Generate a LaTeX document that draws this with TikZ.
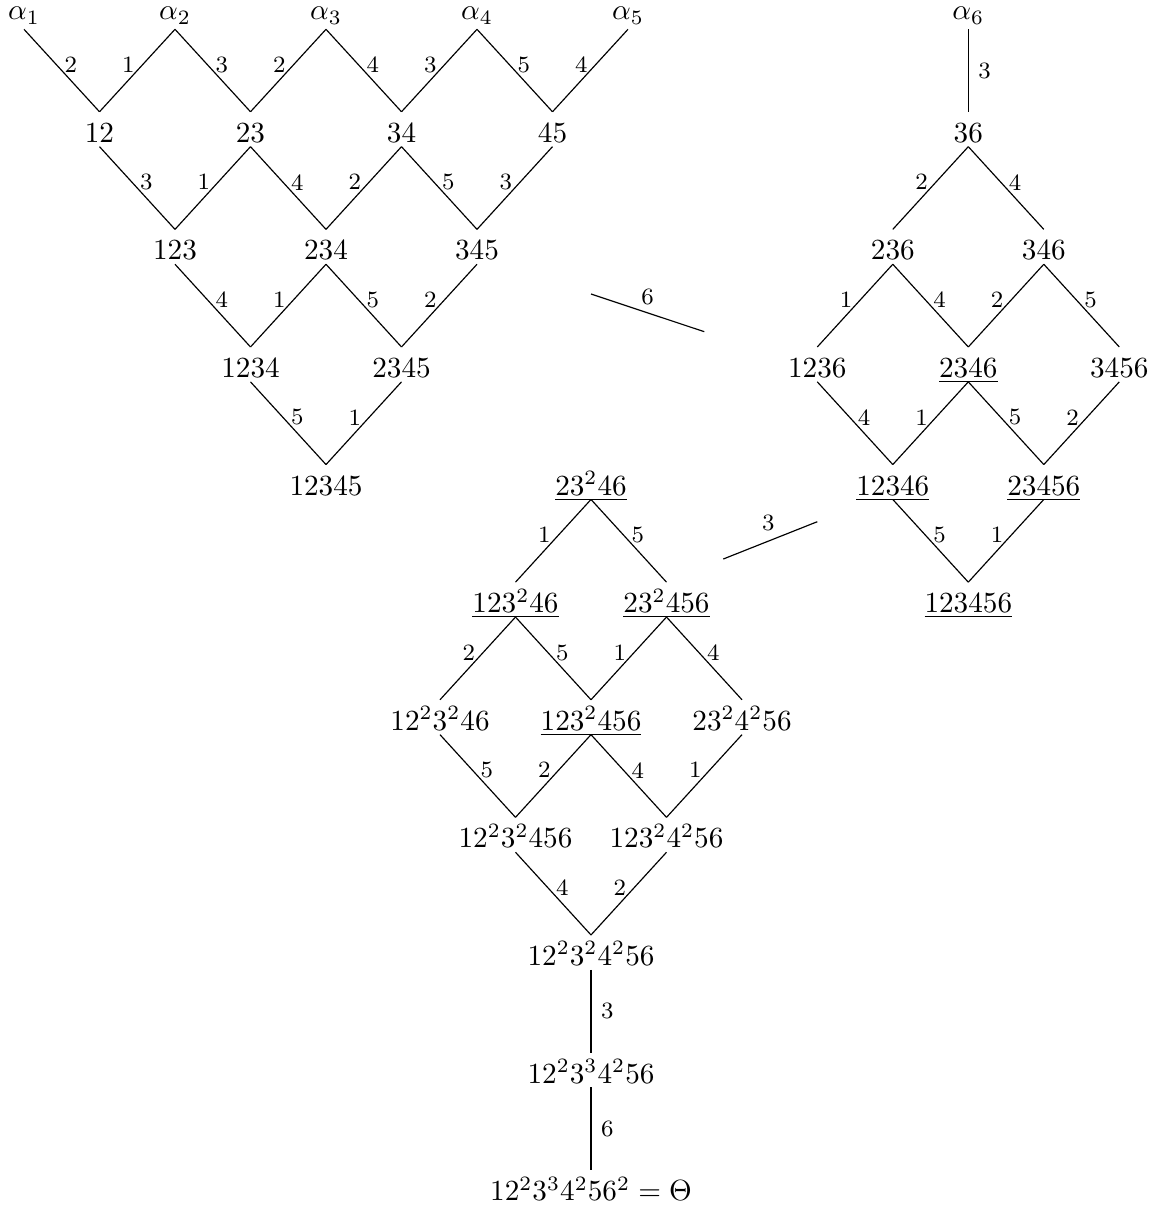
\documentclass[tikz,border=0pt]{standalone}
\begin{document}
\begin{tikzpicture}[x=0.34247pt, y=-0.34247pt,
  vx/.style={inner sep=0pt, outer sep=0pt, text height=10.45pt, text depth=1.5pt},
  ax/.style={inner sep=0pt, outer sep=0pt, text depth=3.2pt, anchor=south},
  labR/.style={pos=0.43, xshift=4.9pt, font=\footnotesize, inner sep=0pt},
  labL/.style={pos=0.43, xshift=-4.9pt, font=\footnotesize, inner sep=0pt},
  labV/.style={pos=0.5, xshift=5.6pt, font=\footnotesize, inner sep=0pt},
  labC/.style={midway, font=\footnotesize, inner sep=0pt}]
\useasboundingbox (0,0) rectangle (1157,1209);

% ---------- left block ----------
\node[ax] (a1) at (24,29.3) {$\alpha_1$};
\node[ax] (a2) at (175,29.3) {$\alpha_2$};
\node[ax] (a3) at (326,29.3) {$\alpha_3$};
\node[ax] (a4) at (477,29.3) {$\alpha_4$};
\node[ax] (a5) at (628,29.3) {$\alpha_5$};

\node[vx] (n12) at (99.5,129.2) {$12$};
\node[vx] (n23) at (250.5,129.2) {$23$};
\node[vx] (n34) at (401.5,129.2) {$34$};
\node[vx] (n45) at (552.5,129.2) {$45$};

\node[vx] (n123) at (175,246.8) {$123$};
\node[vx] (n234) at (326,246.8) {$234$};
\node[vx] (n345) at (477,246.8) {$345$};

\node[vx] (n1234) at (250.5,364.4) {$1234$};
\node[vx] (n2345) at (401.5,364.4) {$2345$};

\node[vx] (n12345) at (326,482.0) {$12345$};

\draw (a1.south) -- node[labR]{2} (n12.north);
\draw (a2.south) -- node[labL]{1} (n12.north);
\draw (a2.south) -- node[labR]{3} (n23.north);
\draw (a3.south) -- node[labL]{2} (n23.north);
\draw (a3.south) -- node[labR]{4} (n34.north);
\draw (a4.south) -- node[labL]{3} (n34.north);
\draw (a4.south) -- node[labR]{5} (n45.north);
\draw (a5.south) -- node[labL]{4} (n45.north);

\draw (n12.south) -- node[labR]{3} (n123.north);
\draw (n23.south) -- node[labL]{1} (n123.north);
\draw (n23.south) -- node[labR]{4} (n234.north);
\draw (n34.south) -- node[labL]{2} (n234.north);
\draw (n34.south) -- node[labR]{5} (n345.north);
\draw (n45.south) -- node[labL]{3} (n345.north);

\draw (n123.south) -- node[labR]{4} (n1234.north);
\draw (n234.south) -- node[labL]{1} (n1234.north);
\draw (n234.south) -- node[labR]{5} (n2345.north);
\draw (n345.south) -- node[labL]{2} (n2345.north);

\draw (n1234.south) -- node[labR]{5} (n12345.north);
\draw (n2345.south) -- node[labL]{1} (n12345.north);

% ---------- right block ----------
\node[ax] (a6) at (968.3,29.3) {$\alpha_6$};
\node[vx] (r36) at (968.3,129.2) {$36$};
\node[vx] (r236) at (892.8,246.8) {$236$};
\node[vx] (r346) at (1043.8,246.8) {$346$};
\node[vx] (r1236) at (817.3,364.4) {$1236$};
\node[vx] (r2346) at (968.3,364.4) {$\underline{2346}$};
\node[vx] (r3456) at (1119.3,364.4) {$3456$};
\node[vx] (r12346) at (892.8,482.0) {$\underline{12346}$};
\node[vx] (r23456) at (1043.8,482.0) {$\underline{23456}$};
\node[vx] (r123456) at (968.3,599.6) {$\underline{123456}$};

\draw (a6.south) -- node[labV]{3} (r36.north);
\draw (r36.south) -- node[labL]{2} (r236.north);
\draw (r36.south) -- node[labR]{4} (r346.north);
\draw (r236.south) -- node[labL]{1} (r1236.north);
\draw (r236.south) -- node[labR]{4} (r2346.north);
\draw (r346.south) -- node[labL]{2} (r2346.north);
\draw (r346.south) -- node[labR]{5} (r3456.north);
\draw (r1236.south) -- node[labR]{4} (r12346.north);
\draw (r2346.south) -- node[labL]{1} (r12346.north);
\draw (r2346.south) -- node[labR]{5} (r23456.north);
\draw (r3456.south) -- node[labL]{2} (r23456.north);
\draw (r12346.south) -- node[labR]{5} (r123456.north);
\draw (r23456.south) -- node[labL]{1} (r123456.north);

% ---------- middle block ----------
\node[vx] (m1) at (591,482.0) {$\underline{23^246}$};
\node[vx] (m2a) at (515.5,599.6) {$\underline{123^246}$};
\node[vx] (m2b) at (666.5,599.6) {$\underline{23^2456}$};
\node[vx] (m3a) at (440,717.2) {$12^23^246$};
\node[vx] (m3b) at (591,717.2) {$\underline{123^2456}$};
\node[vx] (m3c) at (742,717.2) {$23^24^256$};
\node[vx] (m4a) at (515.5,834.8) {$12^23^2456$};
\node[vx] (m4b) at (666.5,834.8) {$123^24^256$};
\node[vx] (m5) at (591,952.4) {$12^23^24^256$};
\node[vx] (m6) at (591,1070.0) {$12^23^34^256$};
\node[vx] (m7) at (591,1187.6) {$12^23^34^256^2=\Theta$};

\draw (m1.south) -- node[labL]{1} (m2a.north);
\draw (m1.south) -- node[labR]{5} (m2b.north);
\draw (m2a.south) -- node[labL]{2} (m3a.north);
\draw (m2a.south) -- node[labR]{5} (m3b.north);
\draw (m2b.south) -- node[labL]{1} (m3b.north);
\draw (m2b.south) -- node[labR]{4} (m3c.north);
\draw (m3a.south) -- node[labR]{5} (m4a.north);
\draw (m3b.south) -- node[labL]{2} (m4a.north);
\draw (m3b.south) -- node[labR]{4} (m4b.north);
\draw (m3c.south) -- node[labL]{1} (m4b.north);
\draw (m4a.south) -- node[labR]{4} (m5.north);
\draw (m4b.south) -- node[labL]{2} (m5.north);
\draw (m5.south) -- node[labV]{3} (m6.north);
\draw (m6.south) -- node[labV]{6} (m7.north);

% ---------- connectors between blocks ----------
\coordinate (c6a) at (591,294);
\coordinate (c6b) at (704.3,331.7);
\draw (c6a) -- node[labC, yshift=5.5pt]{6} (c6b);
\coordinate (c3a) at (723.3,559);
\coordinate (c3b) at (817.3,521.7);
\draw (c3a) -- node[labC, yshift=6pt, xshift=-0.7pt]{3} (c3b);
\end{tikzpicture}
\end{document}
